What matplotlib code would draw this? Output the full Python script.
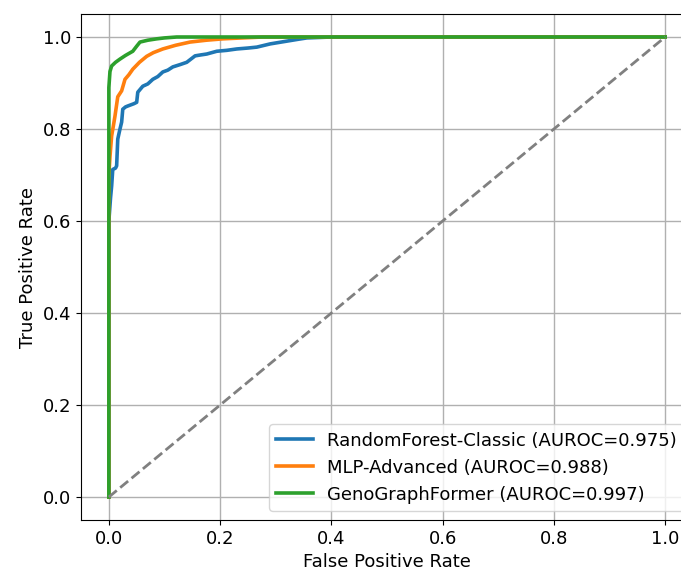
import matplotlib
matplotlib.use("Agg")
import matplotlib.pyplot as plt

plt.rcParams['font.family'] = ['DejaVu Sans']
plt.rcParams['font.size'] = 13

labels = ["RandomForest-Classic (AUROC=0.975)",
          "MLP-Advanced (AUROC=0.988)",
          "GenoGraphFormer (AUROC=0.997)"]
colors = ["#1f77b4", "#ff7f0e", "#2ca02c"]

rf_fpr = [0.0, 0.0, 0.003, 0.005, 0.007, 0.012, 0.014, 0.016, 0.020, 0.023, 0.025, 0.030,
          0.034, 0.045, 0.050, 0.052, 0.061, 0.070, 0.079, 0.088, 0.097, 0.106, 0.115,
          0.128, 0.140, 0.155, 0.165, 0.176, 0.194, 0.212, 0.230, 0.250, 0.266, 0.290,
          0.320, 0.340, 0.356, 0.40, 1.0]
rf_tpr = [0.0, 0.60, 0.65, 0.676, 0.712, 0.715, 0.72, 0.778, 0.80, 0.815, 0.843, 0.848,
          0.85, 0.855, 0.858, 0.88, 0.893, 0.898, 0.908, 0.914, 0.924, 0.928, 0.935,
          0.940, 0.945, 0.959, 0.961, 0.963, 0.969, 0.971, 0.974, 0.976, 0.978, 0.985,
          0.991, 0.995, 0.998, 1.0, 1.0]

mlp_fpr = [0.0, 0.0, 0.002, 0.005, 0.008, 0.011, 0.016, 0.023, 0.029, 0.036, 0.043,
           0.055, 0.068, 0.080, 0.097, 0.120, 0.146, 0.175, 0.205, 0.240, 0.277, 1.0]
mlp_tpr = [0.0, 0.70, 0.74, 0.785, 0.806, 0.828, 0.870, 0.883, 0.908, 0.918, 0.930,
           0.945, 0.958, 0.966, 0.974, 0.982, 0.989, 0.993, 0.996, 0.998, 1.0, 1.0]

ggf_fpr = [0.0, 0.0, 0.002, 0.005, 0.012, 0.020, 0.030, 0.043, 0.050, 0.056, 0.070,
           0.086, 0.100, 0.122, 1.0]
ggf_tpr = [0.0, 0.89, 0.925, 0.937, 0.945, 0.952, 0.960, 0.969, 0.980, 0.989, 0.993,
           0.996, 0.998, 1.0, 1.0]

curves = [(rf_fpr, rf_tpr), (mlp_fpr, mlp_tpr), (ggf_fpr, ggf_tpr)]

fig = plt.figure(figsize=(6.81, 5.76), dpi=100)
ax = fig.add_axes([0.119, 0.0972, 0.8986, 0.8785])

for (f, t), lab, c in zip(curves, labels, colors):
    ax.plot(f, t, color=c, lw=2.6, label=lab)

ax.plot([0, 1], [0, 1], linestyle='--', color='gray', lw=2)

ax.set_xlim(-0.05, 1.05)
ax.set_ylim(-0.05, 1.05)
ax.set_xticks([0.0, 0.2, 0.4, 0.6, 0.8, 1.0])
ax.set_yticks([0.0, 0.2, 0.4, 0.6, 0.8, 1.0])
ax.grid(True, color='#b0b0b0', lw=1)
ax.set_axisbelow(True)
ax.set_xlabel("False Positive Rate")
ax.set_ylabel("True Positive Rate")
ax.legend(loc='lower right', fontsize=13)

fig.savefig("out.png", dpi=100)
